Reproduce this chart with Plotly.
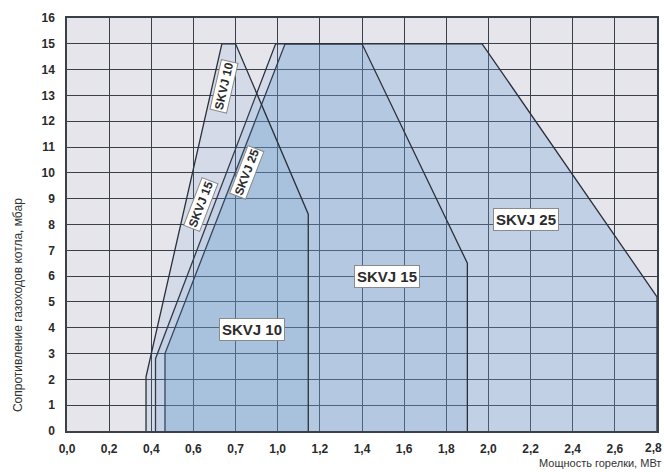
import plotly.graph_objects as go

# ---- data ----
skvj10_x = [0.375, 0.375, 0.735, 0.80, 1.145, 1.145]
skvj10_y = [0, 2.1, 15, 15, 8.4, 0]
skvj15_x = [0.42, 0.42, 0.99, 1.40, 1.90, 1.90]
skvj15_y = [0, 2.8, 15, 15, 6.5, 0]
skvj25_x = [0.465, 0.465, 1.035, 1.97, 2.80, 2.80]
skvj25_y = [0, 3.0, 15, 15, 5.2, 0]

x_tickvals = [0.0, 0.2, 0.4, 0.6, 0.8, 1.0, 1.2, 1.4, 1.6, 1.8, 2.0, 2.2, 2.4, 2.6, 2.8]
x_ticktext = ["0,0", "0,2", "0,4", "0,6", "0,7", "1,0", "1,2", "1,4", "1,6", "1,8",
              "2,0", "2,2", "2,4", "2,6", "2,8"]
y_tickvals = list(range(0, 17))

label_names = ["SKVJ 10", "SKVJ 15", "SKVJ 25"]
label_flat_x = [0.879, 1.52, 2.18]
label_flat_y = [3.92, 5.98, 8.19]
label_rot_x = [0.746, 0.637, 0.855]
label_rot_y = [13.36, 8.78, 10.02]
label_rot_angle = [-77, -69, -69]

FONT = "Liberation Sans Narrow, Liberation Sans, Arial"
LINE = "#2a303a"
TICKFONT = dict(family=FONT, size=12, color="#2a2a2a", weight="bold")

fig = go.Figure()
fills = ["rgba(110,160,212,0.30)", "rgba(95,145,200,0.13)", "rgba(95,145,200,0.13)"]
for (xs, ys), fc, nm in zip([(skvj25_x, skvj25_y), (skvj15_x, skvj15_y), (skvj10_x, skvj10_y)],
                            fills, ["SKVJ 25", "SKVJ 15", "SKVJ 10"]):
    fig.add_trace(go.Scatter(x=xs, y=ys, mode="lines", fill="toself", fillcolor=fc,
                             line=dict(color=LINE, width=1.3), name=nm,
                             hoverinfo="skip", showlegend=False))

for nm, x, y in zip(label_names, label_flat_x, label_flat_y):
    fig.add_annotation(x=x, y=y, text="<b>" + nm + "</b>", showarrow=False,
                       font=dict(family="Liberation Sans, Arial", size=15, color="#2b2b2b"),
                       bgcolor="white", bordercolor="#8a8a8a", borderwidth=1, borderpad=2)
for nm, x, y, a in zip(label_names, label_rot_x, label_rot_y, label_rot_angle):
    fig.add_annotation(x=x, y=y, text="<b>" + nm + "</b>", showarrow=False, textangle=a,
                       font=dict(family="Liberation Sans, Arial", size=12, color="#2b2b2b"),
                       bgcolor="white", bordercolor="#8a8a8a", borderwidth=1, borderpad=1)

# last x tick label (would be hidden at the page edge) drawn as annotation
shown_ticktext = x_ticktext[:-1] + [""]
fig.add_annotation(x=x_tickvals[-1], xref="x", yref="paper", y=0, yanchor="top",
                   yshift=-8, xshift=-4, text=x_ticktext[-1], showarrow=False,
                   font=TICKFONT)

fig.add_annotation(xref="paper", yref="paper", x=-0.083, y=0.305,
                   xanchor="center", yanchor="middle",
                   text="Сопротивление газоходов котла, мбар", textangle=-90, showarrow=False,
                   font=dict(family=FONT, size=12, color="#333"))
fig.add_annotation(xref="paper", yref="paper", x=1.01, y=-0.078, xanchor="right",
                   yanchor="middle", text="Мощность горелки, МВт", showarrow=False,
                   font=dict(family=FONT, size=11, color="#333"))

fig.update_xaxes(range=[0, 2.8], tickvals=x_tickvals, ticktext=shown_ticktext,
                 showgrid=True, gridcolor="#3a404a", gridwidth=1.2,
                 showline=True, linecolor="#3a404a", linewidth=1.5, mirror=True,
                 zeroline=False, ticks="", ticklen=0, automargin=False,
                 ticklabelstandoff=6, tickfont=TICKFONT)
fig.update_yaxes(range=[0, 16], tickvals=y_tickvals,
                 showgrid=True, gridcolor="#3a404a", gridwidth=1.2,
                 showline=True, linecolor="#3a404a", linewidth=1.5, mirror=True,
                 zeroline=False, ticks="", ticklen=0, automargin=False,
                 ticklabelstandoff=8, tickfont=TICKFONT)

fig.update_layout(width=664, height=472,
                  margin=dict(l=67, r=7, t=18, b=41),
                  plot_bgcolor="#e6e5ec", paper_bgcolor="white")

fig.write_html("out.html", config={"displayModeBar": False},
               post_script="document.body.style.margin='0px';")
